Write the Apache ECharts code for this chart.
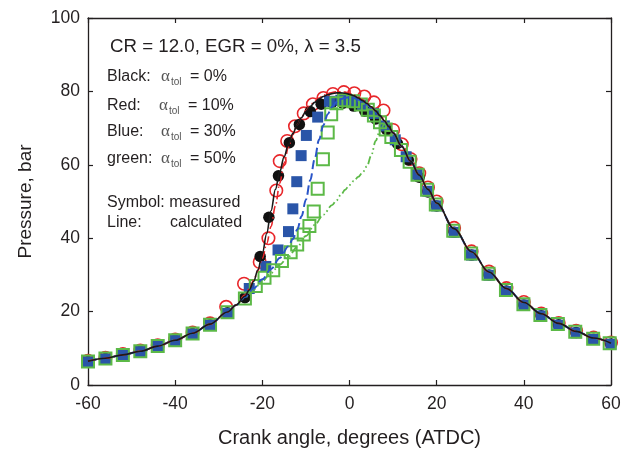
<!DOCTYPE html>
<html>
<head>
<meta charset="utf-8">
<script src="https://cdn.jsdelivr.net/npm/echarts@6/dist/echarts.min.js"></script>
<style>
html,body{margin:0;padding:0;background:#fff;}
#chart{width:635px;height:450px;}
</style>
</head>
<body>
<div id="chart"></div>
<script>
// ---- Data (crank angle in degrees ATDC, pressure in bar) ----
const xTicks = [-60, -40, -20, 0, 20, 40, 60];
const yTicks = [0, 20, 40, 60, 80, 100];

// shared compression and expansion parts of the calculated curves
const compAngle = [-60, -56, -52, -48, -44, -40, -36, -32, -28, -26];
const compP     = [6.5, 7.3, 8.2, 9.2, 10.6, 12.2, 14.1, 16.6, 19.9, 21.8];
const expAngle  = [10, 12, 14, 16, 18, 20, 24, 28, 32, 36, 40, 44, 48, 52, 56, 60];
const expP      = [68.7, 65, 61, 57.2, 53.3, 49.6, 42.6, 36.3, 30.8, 26.3, 22.5, 19.4, 16.8, 14.6, 12.8, 11.4];

// combustion parts of the calculated curves
const blackCalcAngle = [-24,-23,-22,-21,-20,-19,-18,-17,-16,-15,-14,-13,-12,-11,-10,-9,-8,-7,-6,-5,-4,-3,-2,-1,0,1,2,3,4,5,6,7,8,9];
const blackCalcP     = [24.2,25.9,28.2,31.4,35.8,41.3,47.5,53.3,58.1,62.2,65.6,68.5,70.9,72.9,74.6,75.9,77,77.9,78.6,79.1,79.4,79.6,79.6,79.5,79.2,78.8,78.2,77.5,76.7,75.8,74.7,73.4,72,70.4];
const redCalcAngle   = [-24,-23,-22,-21,-20,-19,-18,-17,-16,-15,-14,-13,-12,-11,-10,-9,-8,-7,-6,-5,-4,-3,-2,-1,0,1,2,3,4,5,6,7,8,9];
const redCalcP       = [24.5,26.2,28.5,31.2,34.5,38.5,43.2,48.8,55,60.5,64.8,68.2,70.9,73,74.8,76.2,77.3,78.2,78.9,79.4,79.7,79.9,79.9,79.8,79.5,79,78.4,77.7,76.8,75.8,74.7,73.4,72,70.4];
const blueCalcAngle  = [-24,-22,-20,-18,-16,-14,-13,-12,-11,-10,-9,-8,-7,-6,-5,-4,-3,-2,-1,0,1,2,3,4,5,6,7,8,9];
const blueCalcP      = [24,26.3,28.8,31.6,34.6,37.8,39.8,42.3,46,50.5,55.8,61.5,66.8,70.8,73.8,75.8,77.1,77.9,78.3,78.4,78.2,77.8,77.2,76.4,75.5,74.5,73.3,71.9,70.4];
const greenCalcAngle = [-24,-22,-20,-18,-16,-14,-12,-10,-8,-6,-4,-3,-2,-1,0,1,2,3,4,5,6,7,8,9];
const greenCalcP     = [23.8,26,28.3,30.5,32.8,35,37.6,40.6,43.6,46.4,49,50.3,51.8,53.2,54.5,55.6,56.7,57.9,59.6,62.6,66.5,69.4,71,70.4];

// measured points
const blackMeasAngle = [-60,-56,-52,-48,-44,-40,-36,-32,-28,-24,-20.5,-18.5,-16.3,-13.8,-11.5,-9,-6.5,-4,-1.5,1,3.5,6,8.5,11,13.5,16,18,20,24,28,32,36,40,44,48,52,56,60];
const blackMeasP     = [6.4,7.2,8.2,9.2,10.6,12.2,14,16.4,19.7,23.8,35,45.7,57,66,71,74.5,76.5,77,76.8,76,74.6,72.5,69.6,65.8,61.3,56.6,52.6,48.8,41.6,35.4,30,25.6,21.8,18.9,16.4,14.3,12.5,11.2];
const redMeasAngle   = [-60,-56,-52,-48,-44,-40,-36,-32,-28.3,-24.2,-20.6,-18.6,-16.8,-16,-14.3,-12.5,-10.5,-8.4,-6,-3.8,-1.3,1.1,3.4,5.6,7.8,10,12,14,16,18,20,24,28,32,36,40,44,48,52,56,60];
const redMeasP       = [6.6,7.4,8.4,9.4,10.8,12.4,14.3,16.8,21.3,27.6,33.5,40,53,61,66.5,70.5,74,76.5,78.2,79.3,79.8,79.5,78.6,77,74.8,69.5,65.6,61.6,57.7,53.8,50,42.8,36.4,30.9,26.4,22.6,19.5,16.9,14.8,12.9,11.6];
const blueMeasAngle  = [-60,-56,-52,-48,-44,-40,-36,-32,-28,-23,-19.2,-16.4,-14,-13,-12.1,-11.1,-9.9,-7.3,-4.6,-2,0.5,3,5.5,8,10.5,13,15.5,18,20,24,28,32,36,40,44,48,52,56,60];
const blueMeasP      = [6.3,7.1,8.1,9.1,10.5,12.1,13.9,16.3,19.5,26.3,32.3,36.8,41.8,48,55.4,62.5,68,73,77.3,77.6,77.3,76.3,74,70.6,66.8,62.2,57.4,52.8,48.8,41.6,35.4,29.9,25.5,21.8,18.8,16.3,14.2,12.4,11.1];
const greenMeasAngle = [-60,-56,-52,-48,-44,-40,-36,-32,-28,-24,-21.5,-19.5,-17.5,-15.5,-13.5,-12,-10.5,-9.2,-8.2,-7.3,-6.1,-5,-4.2,-3,-1.2,0.8,2.6,4.2,5.6,7,8.3,9.6,11.8,13.8,15.6,17.8,19.8,23.8,27.9,31.9,35.9,39.9,43.8,47.8,51.8,55.9,59.7];
const greenMeasP     = [6.4,7.2,8.2,9.2,10.6,12.2,14,16.4,19.8,23.6,27,29.2,31.3,33.8,36.2,38.3,41,43.3,47.3,53.5,61.5,68.8,73.8,76.8,77.6,77.3,76.4,75,73.4,71.6,69.6,67.6,64,60.8,57.3,53.2,49.2,42,35.8,30.3,25.9,22,19.1,16.6,14.5,12.6,11.4];

// ---- helpers to build library data ----
function zip(a, b) { return a.map((v, i) => [v, b[i]]); }
function fullCurve(angles, ps) {
  return zip(compAngle, compP).concat(zip(angles, ps)).concat(zip(expAngle, expP));
}

const AX = '#231f20';
const FONT = 'Liberation Sans, Arial, sans-serif';

const chart = echarts.init(document.getElementById('chart'), null, {renderer: 'canvas'});

function lineSeries(name, data, color, width, type, z) {
  return {
    name, type: 'line', data, showSymbol: false, symbol: 'none',
    smooth: 0.35, smoothMonotone: 'x', z: z, silent: true,
    lineStyle: {color, width, type, cap: 'butt'}
  };
}
function scatterSeries(name, data, symbol, size, fill, border, bw, z) {
  return {
    name, type: 'scatter', data, symbol, symbolSize: size, z: z, silent: true,
    itemStyle: {color: fill, borderColor: border, borderWidth: bw, opacity: 1}
  };
}

const textItems = [];
function txt(x, y, s, size, opts) {
  textItems.push(Object.assign({
    type: 'text', x: x, y: y, silent: true,
    style: Object.assign({
      text: s, fontSize: size, fontFamily: FONT, fill: '#231f20',
      textAlign: 'left', textVerticalAlign: 'middle', align: 'left', verticalAlign: 'middle'
    }, opts || {})
  }));
}
txt(110, 47, 'CR = 12.0, EGR = 0%, λ = 3.5', 18.7);
const legendRows = [
  {label: 'Black:', val: '= 0%', y: 77, ax: 161},
  {label: 'Red:', val: '= 10%', y: 106, ax: 159},
  {label: 'Blue:', val: '= 30%', y: 132, ax: 161},
  {label: 'green:', val: '= 50%', y: 159, ax: 161}
];
legendRows.forEach(r => {
  txt(107, r.y, r.label, 16);
  txt(r.ax, r.y, 'α', 17, {fontFamily: 'Liberation Serif, DejaVu Serif, serif', fill: '#555'});
  txt(r.ax + 10, r.y + 5, 'tol', 10, {fill: '#555'});
  txt(r.ax + 29, r.y, r.val, 16);
});
txt(107, 203, 'Symbol: measured', 16);
txt(107, 223, 'Line:', 16);
txt(170, 223, 'calculated', 16);

const axisLineStyle = {show: true, onZero: false, lineStyle: {color: AX, width: 1.3}};
const tickStyle = {show: true, inside: true, length: 5, lineStyle: {color: AX, width: 1.2}};

const option = {
  animation: false,
  backgroundColor: '#fff',
  grid: {left: 88, right: 24, top: 18, bottom: 65, show: false, containLabel: false, outerBoundsMode: 'none'},
  xAxis: [{
    type: 'value', min: -60, max: 60, interval: 20, position: 'bottom',
    name: 'Crank angle, degrees (ATDC)', nameLocation: 'middle', nameGap: 43,
    nameTextStyle: {fontSize: 20, fontFamily: FONT, color: '#231f20'},
    axisLine: axisLineStyle, axisTick: tickStyle,
    axisLabel: {fontSize: 17.5, fontFamily: FONT, color: '#231f20', margin: 10},
    splitLine: {show: false}
  }, {
    type: 'value', min: -60, max: 60, interval: 20, position: 'top',
    axisLine: axisLineStyle, axisTick: tickStyle,
    axisLabel: {show: false}, splitLine: {show: false}
  }],
  yAxis: [{
    type: 'value', min: 0, max: 100, interval: 20, position: 'left',
    name: 'Pressure, bar', nameLocation: 'middle', nameGap: 53,
    nameTextStyle: {fontSize: 19, fontFamily: FONT, color: '#231f20'},
    axisLine: axisLineStyle, axisTick: tickStyle,
    axisLabel: {fontSize: 17.5, fontFamily: FONT, color: '#231f20', margin: 8},
    splitLine: {show: false}
  }, {
    type: 'value', min: 0, max: 100, interval: 20, position: 'right',
    axisLine: axisLineStyle, axisTick: tickStyle,
    axisLabel: {show: false}, splitLine: {show: false}
  }],
  graphic: textItems,
  series: [
    scatterSeries('red meas', zip(redMeasAngle, redMeasP), 'circle', 12.5, 'rgba(0,0,0,0)', '#e8262a', 1.6, 2),
    scatterSeries('black meas', zip(blackMeasAngle, blackMeasP), 'circle', 11.5, '#111', '#111', 0, 3),
    scatterSeries('blue meas', zip(blueMeasAngle, blueMeasP), 'rect', 11, '#2a55a8', '#2a55a8', 0, 4),
    scatterSeries('green meas', zip(greenMeasAngle, greenMeasP), 'rect', 12, 'rgba(0,0,0,0)', '#5cb947', 2, 5),
    lineSeries('green calc', fullCurve(greenCalcAngle, greenCalcP), '#5cb947', 1.8, [8, 3, 1.5, 3, 1.5, 3], 6),
    lineSeries('blue calc', fullCurve(blueCalcAngle, blueCalcP), '#2a55c8', 2, [9, 4], 7),
    lineSeries('red calc', fullCurve(redCalcAngle, redCalcP), '#e8262a', 1.6, [8, 3, 1.5, 3], 8),
    lineSeries('black calc', fullCurve(blackCalcAngle, blackCalcP), '#1a1a1a', 1.6, 'solid', 9)
  ]
};
chart.setOption(option);
</script>
</body>
</html>
